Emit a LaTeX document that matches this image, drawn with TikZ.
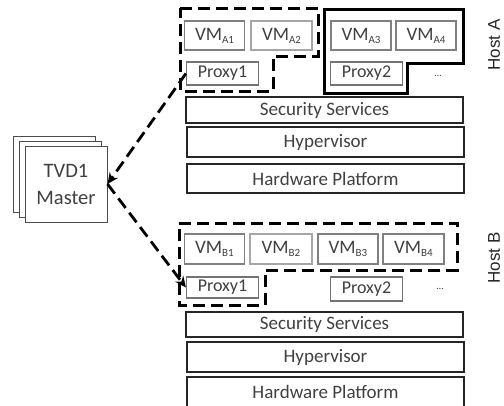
\documentclass[tikz,border=0pt]{standalone}
\usepackage{fontspec}
\setmainfont{Carlito}
\newfontfamily\hostfont{Liberation Sans}
\usetikzlibrary{arrows.meta}
\definecolor{txtgray}{HTML}{404040}
\newcommand{\vmname}[1]{VM\raisebox{-3pt}{\fontsize{11}{12}\selectfont #1}}

\begin{document}
\begin{tikzpicture}[x=1pt,y=-1pt,
    every node/.style={inner sep=0pt, text=txtgray},
    layer/.style={draw=black!85, line width=1.2pt, minimum width=277pt, font=\fontsize{19}{20}\selectfont},
    vm/.style={draw=black!50, line width=1.2pt, minimum width=60pt, minimum height=29pt, font=\fontsize{19}{20}\selectfont},
    proxy/.style={draw=black!55, line width=1.2pt, minimum width=72pt, minimum height=23pt, font=\fontsize{18}{20}\selectfont},
    group/.style={line width=3pt, line join=miter},
    dashgroup/.style={group, dash pattern=on 12pt off 6pt},
    link/.style={line width=2.8pt, dash pattern=on 12pt off 6pt, -{Stealth[length=11pt,width=10pt]}},
    host/.style={rotate=90, font=\hostfont\fontsize{17}{18}\selectfont, text=black!85},
    masterbox/.style={draw=black!70, fill=white, line width=1pt, minimum width=82pt, minimum height=76pt}
  ]
  \useasboundingbox (0,0) rectangle (504,405);

  % Master (stacked)
  \node[masterbox] (back2) at (54,174) {};
  \node[masterbox] (back1) at (60,179) {};
  \node[masterbox, align=center, font=\fontsize{20.5}{27}\selectfont] (master) at (66,184) {TVD1\\Master};

  % Host A
  \node[vm] (vmA1) at (214.5,35.5) {\vmname{A1}};
  \node[vm, draw=black!35, minimum width=61pt] (vmA2) at (281.5,35.5) {\vmname{A2}};
  \node[proxy] (proxyA1) at (222.5,73.5) {Proxy1};
  \node[vm] (vmA3) at (361,35.5) {\vmname{A3}};
  \node[vm] (vmA4) at (426,35.5) {\vmname{A4}};
  \node[proxy] (proxyA2) at (366.5,73.5) {Proxy2};
  \node (dotsA) at (438,76) {\ldots};
  \node[layer, minimum height=26pt] (secA) at (324.5,110) {Security Services};
  \node[layer, minimum height=30pt] (hypA) at (325.5,142) {Hypervisor};
  \node[layer, minimum height=29pt] (hwA) at (325.5,178.5) {Hardware Platform};
  \node[host] (hostA) at (494,45) {Host A};

  \draw[dashgroup] (180,8) -- (318,8) -- (318,56) -- (273,56) -- (273,91) -- (180,91) -- cycle;
  \draw[group] (324,9) -- (463,9) -- (463,63) -- (407,63) -- (407,93) -- (324,93) -- cycle;

  % Host B
  \node[vm, minimum height=30pt] (vmB1) at (214.5,249) {\vmname{B1}};
  \node[vm, draw=black!35, minimum width=62pt, minimum height=30pt] (vmB2) at (281,249) {\vmname{B2}};
  \node[vm, minimum height=30pt] (vmB3) at (348,249) {\vmname{B3}};
  \node[vm, minimum width=61pt, minimum height=30pt] (vmB4) at (413.5,249) {\vmname{B4}};
  \node[proxy, minimum height=21pt] (proxyB1) at (222.5,287.5) {Proxy1};
  \node[proxy, minimum height=24pt] (proxyB2) at (366.5,289) {Proxy2};
  \node (dotsB) at (440,289) {\ldots};
  \node[layer, minimum height=25pt] (secB) at (324.5,324.5) {Security Services};
  \node[layer, minimum height=30pt] (hypB) at (325.5,357) {Hypervisor};
  \node[layer, minimum height=30pt] (hwB) at (325.5,392) {Hardware Platform};
  \node[host] (hostB) at (494,258) {Host B};

  \draw[dashgroup] (179,223) -- (457,223) -- (457,270) -- (265,270) -- (265,305) -- (179,305) -- cycle;

  % Links to master
  \draw[link] (proxyA1.west) -- (master.east);
  \draw[link] (master.east) -- (proxyB1.west);

\end{tikzpicture}
\end{document}
